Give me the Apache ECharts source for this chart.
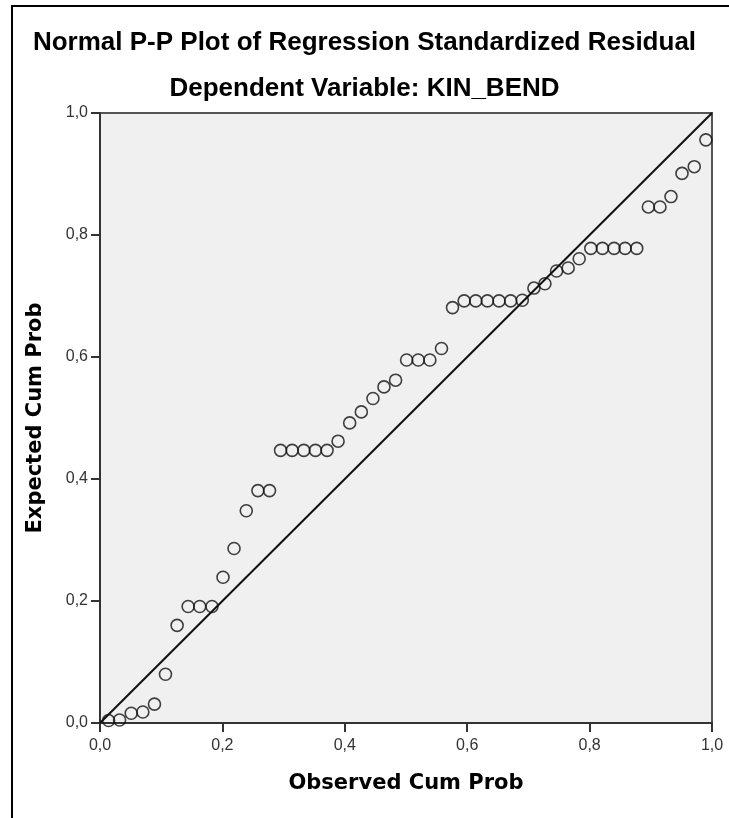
<!DOCTYPE html>
<html>
<head>
<meta charset="utf-8">
<script src="https://cdn.jsdelivr.net/npm/echarts@6/dist/echarts.min.js"></script>
<style>
  html, body { margin: 0; padding: 0; background: #fff; }
  #chart { width: 729px; height: 818px; }
</style>
</head>
<body>
<div id="chart"></div>
<script>
// observed vs expected cumulative probability
var observed = [0.014, 0.032, 0.051, 0.070, 0.089, 0.107, 0.126, 0.144, 0.163, 0.183,
  0.201, 0.219, 0.239, 0.258, 0.277, 0.295, 0.314, 0.333, 0.352, 0.371,
  0.389, 0.408, 0.427, 0.446, 0.464, 0.483, 0.501, 0.520, 0.539, 0.558,
  0.576, 0.595, 0.614, 0.633, 0.652, 0.671, 0.690, 0.709, 0.727, 0.746,
  0.765, 0.783, 0.802, 0.821, 0.840, 0.858, 0.877, 0.896, 0.915, 0.933,
  0.951, 0.971, 0.990];
var expected = [0.004, 0.005, 0.016, 0.018, 0.031, 0.080, 0.160, 0.191, 0.191, 0.191,
  0.239, 0.286, 0.348, 0.381, 0.381, 0.447, 0.447, 0.447, 0.447, 0.447,
  0.462, 0.492, 0.510, 0.532, 0.551, 0.562, 0.595, 0.595, 0.595, 0.614,
  0.681, 0.692, 0.692, 0.692, 0.692, 0.692, 0.693, 0.713, 0.720, 0.741,
  0.746, 0.761, 0.778, 0.778, 0.778, 0.778, 0.778, 0.846, 0.846, 0.863,
  0.901, 0.912, 0.956];
var refLine = [[0, 0], [1, 1]];
var tickLabels = ['0,0', '0,2', '0,4', '0,6', '0,8', '1,0'];

var points = observed.map(function (x, i) { return [x, expected[i]]; });

var chart = echarts.init(document.getElementById('chart'));

function axis(name, gap, rot, labelMargin) {
  return {
    type: 'value',
    min: 0, max: 1, interval: 0.2,
    name: name,
    nameLocation: 'middle',
    nameGap: gap,
    nameRotate: rot,
    nameTextStyle: { fontFamily: 'DejaVu Sans', fontWeight: 'bold', fontSize: 21, color: '#000' },
    axisLine: { show: true, onZero: false, lineStyle: { color: '#333', width: 2 } },
    axisTick: { show: true, length: 9, lineStyle: { color: '#333', width: 2 } },
    axisLabel: {
      margin: labelMargin, fontFamily: 'Liberation Sans', fontSize: 16, color: '#333',
      formatter: function (v) { return tickLabels[Math.round(v * 5)]; }
    },
    splitLine: { show: false }
  };
}

chart.setOption({
  animation: false,
  backgroundColor: '#fff',
  title: [
    {
      text: 'Normal P-P Plot of Regression Standardized Residual',
      left: 'center', top: 30, padding: 0,
      textStyle: { fontFamily: 'Liberation Sans', fontWeight: 'bold', fontSize: 26, color: '#000' }
    },
    {
      text: 'Dependent Variable: KIN_BEND',
      left: 'center', top: 76, padding: 0,
      textStyle: { fontFamily: 'Liberation Sans', fontWeight: 'bold', fontSize: 26, color: '#000' }
    }
  ],
  grid: {
    left: 100, top: 113, width: 612, height: 610,
    show: true, backgroundColor: '#f0f0f0', borderColor: '#555', borderWidth: 2
  },
  xAxis: axis('Observed Cum Prob', 50, 0, 15),
  yAxis: axis('Expected Cum Prob', 54, 90, 12),
  graphic: [{
    type: 'polyline',
    shape: { points: [[12, 818], [12, 6], [729, 6]] },
    style: { stroke: '#000', lineWidth: 2, fill: null }
  }],
  series: [
    {
      type: 'line',
      data: refLine,
      symbol: 'none',
      lineStyle: { color: '#111', width: 2 },
      z: 2
    },
    {
      type: 'scatter',
      data: points,
      symbol: 'circle',
      symbolSize: 12,
      itemStyle: { color: 'rgba(0,0,0,0)', borderColor: '#111', borderWidth: 1.6 },
      z: 3
    }
  ]
});
</script>
</body>
</html>
